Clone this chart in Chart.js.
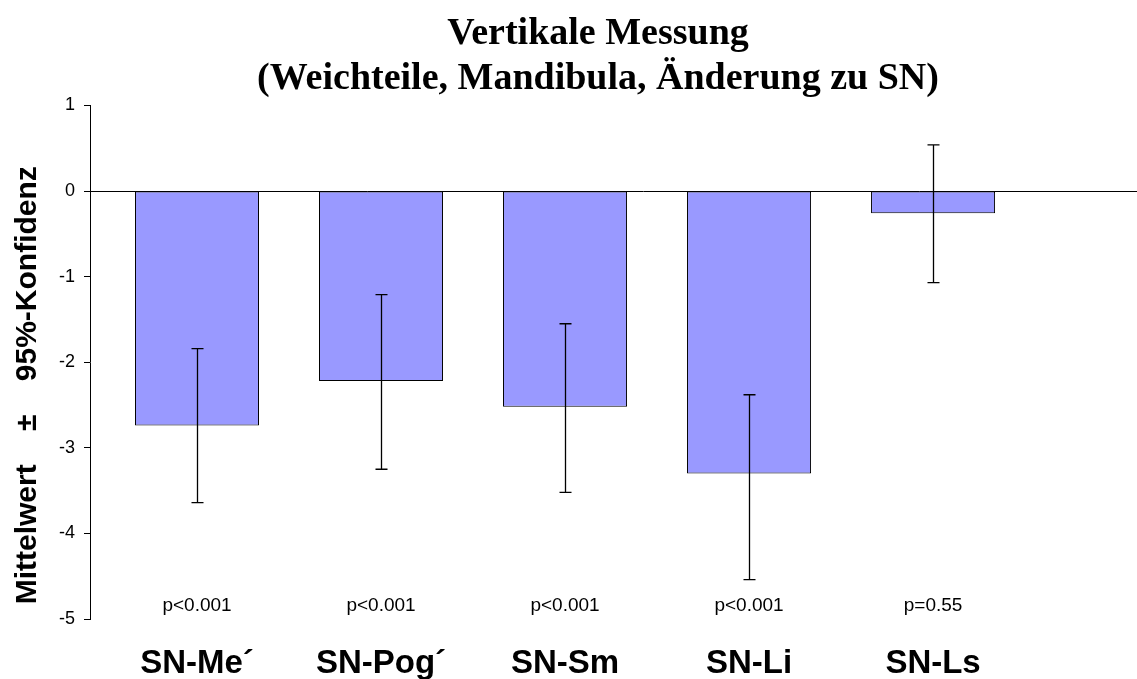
<!DOCTYPE html>
<html>
<head>
<meta charset="utf-8">
<script src="https://cdn.jsdelivr.net/npm/chart.js@4.4.0/dist/chart.umd.min.js"></script>
<style>
  html, body { margin: 0; padding: 0; background: #fff; overflow: hidden; }
  canvas { display: block; }
</style>
</head>
<body>
<canvas id="chart" width="1196" height="679"></canvas>
<script>
// Values per category
const categories = ['SN-Me´', 'SN-Pog´', 'SN-Sm', 'SN-Li', 'SN-Ls'];
const means      = [-2.74, -2.22, -2.52, -3.30, -0.26];
const ciUpper    = [-1.84, -1.21, -1.55, -2.38,  0.54];
const ciLower    = [-3.64, -3.25, -3.52, -4.54, -1.07];
const pLabels    = ['p<0.001', 'p<0.001', 'p<0.001', 'p<0.001', 'p=0.55'];
const yTicks     = [1, 0, -1, -2, -3, -4, -5];
const titleLines = ['Vertikale Messung', '(Weichteile, Mandibula, Änderung zu SN)'];
const yTitle     = 'Mittelwert    ±    95%-Konfidenz';

const SANS = '"Liberation Sans", Arial, sans-serif';
const SERIF = '"Liberation Serif", "Times New Roman", serif';

// Confidence whiskers, p-value captions and the rotated axis caption
const extras = {
  id: 'extras',
  afterDatasetsDraw(chart) {
    const { ctx, chartArea } = chart;
    const xs = chart.scales.x, ys = chart.scales.y;
    ctx.save();
    ctx.strokeStyle = '#000';
    ctx.lineWidth = 1.3;
    categories.forEach((_, i) => {
      const x = Math.round(xs.getPixelForValue(i)) + 0.5;
      const yt = ys.getPixelForValue(ciUpper[i]);
      const yb = ys.getPixelForValue(ciLower[i]);
      ctx.beginPath();
      ctx.moveTo(x, yt); ctx.lineTo(x, yb);
      ctx.moveTo(x - 6, yt); ctx.lineTo(x + 6, yt);
      ctx.moveTo(x - 6, yb); ctx.lineTo(x + 6, yb);
      ctx.stroke();
    });
    ctx.fillStyle = '#000';
    ctx.font = '19px ' + SANS;
    ctx.textAlign = 'center';
    ctx.textBaseline = 'middle';
    categories.forEach((_, i) => {
      ctx.fillText(pLabels[i], xs.getPixelForValue(i), chartArea.bottom - 13);
    });
    ctx.restore();
  },
  afterDraw(chart) {
    const { ctx, chartArea } = chart;
    ctx.save();
    ctx.translate(28, (chartArea.top + chartArea.bottom) / 2 + 23);
    ctx.rotate(-Math.PI / 2);
    ctx.fillStyle = '#000';
    ctx.font = 'bold 30px ' + SANS;
    ctx.textAlign = 'center';
    ctx.textBaseline = 'middle';
    ctx.fillText(yTitle, 0, 0);
    ctx.restore();
  }
};

new Chart(document.getElementById('chart'), {
  type: 'bar',
  data: {
    datasets: [{
      data: means.map((v, i) => ({ x: i, y: v })),
      backgroundColor: '#9999FF',
      borderColor: '#000',
      borderWidth: 1,
      borderSkipped: false,
      categoryPercentage: 1,
      barPercentage: 0.674
    }]
  },
  options: {
    responsive: false,
    animation: false,
    devicePixelRatio: 1,
    layout: { padding: 0 },
    plugins: {
      legend: { display: false },
      tooltip: { enabled: false },
      title: {
        display: true,
        text: titleLines,
        color: '#000',
        font: { family: SERIF, size: 38, weight: 'bold', lineHeight: 1.2 },
        padding: { top: 11, bottom: 3.3 }
      }
    },
    scales: {
      x: {
        type: 'linear',
        offset: false,
        min: -0.5815,
        max: 5.429,
        afterBuildTicks(scale) { scale.ticks = categories.map((_, i) => ({ value: i })); },
        grid: { display: false },
        border: { display: false },
        ticks: {
          color: '#000',
          padding: 17,
          font: { family: SANS, size: 33, weight: 'bold' },
          maxRotation: 0,
          autoSkip: false,
          callback: v => categories[v]
        },
        afterFit(scale) { scale.height = 60; }
      },
      y: {
        min: -5,
        max: 1,
        afterBuildTicks(scale) { scale.ticks = yTicks.map(v => ({ value: v })); },
        grid: {
          drawOnChartArea: true,
          color: c => (c.tick && c.tick.value === 0 ? '#000' : 'rgba(0,0,0,0)'),
          tickColor: '#000',
          tickLength: 6,
          lineWidth: 1
        },
        border: { display: true, color: '#000', width: 1 },
        ticks: {
          color: '#000',
          padding: 9,
          font: { family: SANS, size: 18 }
        },
        afterFit(scale) { scale.width = 90; }
      }
    }
  },
  plugins: [extras]
});
</script>
</body>
</html>
